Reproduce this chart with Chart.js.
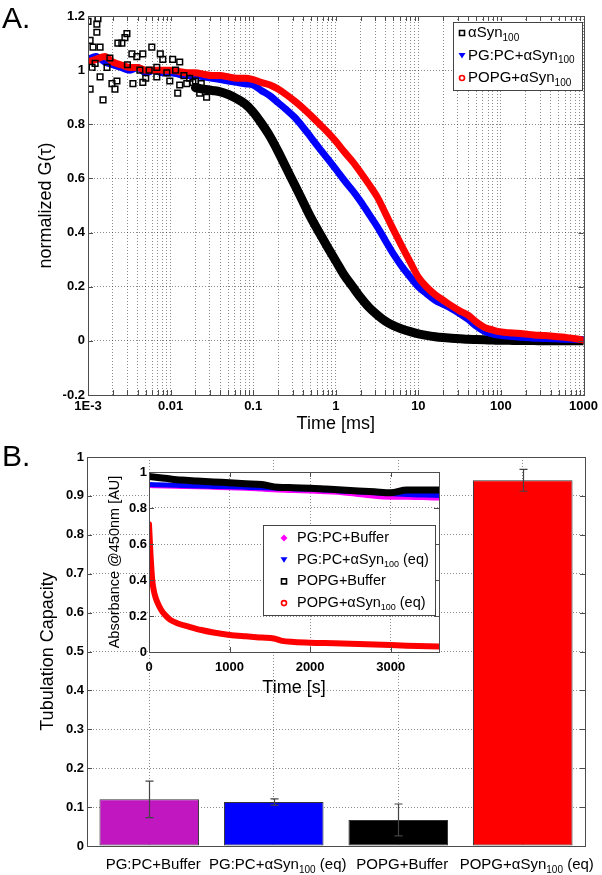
<!DOCTYPE html>
<html>
<head>
<meta charset="utf-8">
<script src="https://cdn.jsdelivr.net/npm/chart.js@4.4.0/dist/chart.umd.min.js"></script>
<style>
body{margin:0;background:#fff;width:602px;height:875px;position:relative;overflow:hidden;font-family:"Liberation Sans",Arial,sans-serif}
canvas{position:absolute}
.tag{position:absolute;left:2px;font-size:30px;line-height:1;color:#000}
</style>
</head>
<body>
<canvas id="fcsChart" style="left:0;top:0" width="602" height="445"></canvas>
<canvas id="tubeChart" style="left:0;top:445px" width="602" height="430"></canvas>
<canvas id="insetChart" style="left:100px;top:460px" width="345" height="245"></canvas>
<div class="tag" style="top:3px">A.</div>
<div class="tag" style="top:441px">B.</div>
<script>
// ---------- panel A : normalized G(tau) vs time [ms] ----------
const decades = [0.001, 0.01, 0.1, 1, 10, 100, 1000];
const decadeLabels = ['1E-3', '0.01', '0.1', '1', '10', '100', '1000'];
const seriesA = ['αSyn_{100}', 'PG:PC+αSyn_{100}', 'POPG+αSyn_{100}'];

const tA = [0.001,0.00125,0.0016,0.002,0.0025,0.0032,0.004,0.005,0.0063,0.008,
  0.01,0.0125,0.016,0.02,0.025,0.032,0.04,0.05,0.063,0.08,
  0.1,0.125,0.16,0.2,0.25,0.32,0.4,0.5,0.63,0.8,
  1,1.25,1.6,2,2.5,3.2,4,5,6.3,8,
  10,12.5,16,20,25,32,40,50,63,80,
  100,125,160,200,250,320,400,500,630,800,1000];
const gBlack = [null,null,null,null,null,null,null,null,null,null,
  null,null,null,0.935,0.93,0.925,0.92,0.91,0.895,0.875,
  0.845,0.805,0.755,0.70,0.64,0.575,0.515,0.455,0.40,0.345,
  0.295,0.245,0.20,0.16,0.125,0.095,0.072,0.056,0.044,0.034,
  0.026,0.02,0.015,0.012,0.01,0.008,0.006,0.005,0.004,0.003,
  0.002,0.002,0.001,0.001,0.001,0,0,0,0,0,0];
const gBlue = [1.04,1.05,1.03,1.02,1.01,1.00,1.01,0.99,1.00,0.99,
  0.99,0.985,0.98,0.98,0.975,0.97,0.965,0.96,0.955,0.95,
  0.945,0.925,0.905,0.88,0.855,0.825,0.79,0.752,0.712,0.672,
  0.634,0.595,0.555,0.515,0.47,0.42,0.37,0.32,0.275,0.235,
  0.20,0.175,0.15,0.135,0.12,0.10,0.08,0.055,0.035,0.025,
  0.02,0.017,0.014,0.012,0.01,0.009,0.008,0.007,0.006,0.005,0.005];
const gRed = [1.03,1.04,1.05,1.03,1.02,1.01,1.01,1.00,1.00,1.00,
  1.00,0.995,0.99,0.99,0.985,0.98,0.98,0.975,0.97,0.97,
  0.965,0.955,0.945,0.93,0.91,0.885,0.86,0.832,0.802,0.77,
  0.737,0.70,0.662,0.622,0.58,0.53,0.47,0.41,0.35,0.29,
  0.235,0.20,0.17,0.15,0.13,0.11,0.095,0.07,0.05,0.04,
  0.033,0.03,0.028,0.025,0.022,0.02,0.018,0.015,0.012,0.008,0.003];
// scattered early points of the free protein curve
const tBlackNoise = [0.001,0.00132,0.00128,0.00106,0.00128,0.0014,0.0014,0.00106,0.00152,0.00212,
  0.00195,0.0023,0.0028,0.00296,0.00257,0.0034,0.0039,0.00461,0.00592,0.00681,
  0.0035,0.00461,0.00805,0.0106,0.0129,0.00978,0.0129,0.0122,0.0157,0.0186,
  0.0225,0.0273,0.00681,0.00425,0.00224,0.0017,0.00184,0.00122,0.00115,0.00112,
  0.003,0.0055,0.009,0.0115,0.0145,0.017,0.02,0.0235,0.0075,0.005];
const gBlackNoise = [1.18,1.19,1.17,1.11,1.14,1.085,0.975,0.93,0.89,0.93,
  0.95,1.10,1.12,1.135,1.10,1.06,1.05,1.06,1.085,1.01,
  0.95,0.955,1.04,1.04,1.03,0.96,0.945,0.915,0.95,0.955,
  0.915,0.90,0.975,1.0,0.96,1.01,1.045,1.025,1.085,1.01,
  1.02,1.0,0.99,1.0,0.98,0.97,0.96,0.95,1.06,0.97];

// ---------- panel B : tubulation capacity ----------
const barLabels = ['PG:PC+Buffer', 'PG:PC+αSyn_{100} (eq)', 'POPG+Buffer', 'POPG+αSyn_{100} (eq)'];
const tubValues = [0.12, 0.113, 0.067, 0.94];
const tubErrors = [0.047, 0.008, 0.041, 0.028];
const barColors = ['#c017c0', '#0000ff', '#000000', '#ff0000'];

// ---------- inset : absorbance @450nm vs time [s] ----------
const seriesInset = ['PG:PC+Buffer', 'PG:PC+αSyn_{100} (eq)', 'POPG+Buffer', 'POPG+αSyn_{100} (eq)'];
const insetTimeTicks = [0, 1000, 2000, 3000];
const tInset = [0,200,400,600,800,1000,1200,1400,1600,1800,2000,2200,2400,2600,2800,3000,3200,3400,3600];
const absPgpcBuffer = [0.925,0.922,0.92,0.918,0.915,0.912,0.91,0.905,0.9,0.897,0.895,0.89,0.885,0.875,0.865,0.86,0.86,0.858,0.855];
const absPgpcSyn = [0.93,0.928,0.925,0.922,0.92,0.918,0.915,0.912,0.91,0.907,0.905,0.9,0.895,0.89,0.885,0.88,0.875,0.872,0.87];
const absPopgBuffer = [0.975,0.965,0.955,0.95,0.945,0.94,0.935,0.93,0.915,0.913,0.91,0.905,0.9,0.895,0.89,0.885,0.9,0.9,0.9];
const tRedInset = [0,10,20,30,40,60,80,100,150,200,260,350,500,650,800,1000,1200,1400,1550,1650,1800,2000,2300,2600,2900,3200,3600];
const absPopgSyn = [0.71,0.62,0.53,0.46,0.40,0.34,0.305,0.28,0.235,0.205,0.18,0.16,0.14,0.122,0.108,0.095,0.087,0.08,0.075,0.062,0.056,0.052,0.049,0.045,0.04,0.035,0.03];

//================ helpers =================
const FONT = '"Liberation Sans", Arial, sans-serif';
const gridColor = 'rgba(0,0,0,0.45)';
const gridDash = [1, 2];
Chart.defaults.font.family = FONT;
Chart.defaults.color = '#000';

const xy = (ts, vs) => ts.map((t, i) => ({x: t, y: vs[i]})).filter(p => p.y !== null);
const shortNum = v => String(Math.round(v * 10) / 10);

// "αSyn_{100}" -> text with subscript
function parts(label) {
  const out = [];
  label.split(/_\{|\}/).forEach((s, i) => { if (s) out.push([s, i % 2 === 1]); });
  return out;
}
function richWidth(ctx, label, size) {
  let w = 0;
  parts(label).forEach(([s, sub]) => {
    ctx.font = (sub ? Math.round(size * 0.65) : size) + 'px ' + FONT;
    w += ctx.measureText(s).width;
  });
  return w;
}
function richText(ctx, label, x, y, size, align) {
  if (align === 'center') x -= richWidth(ctx, label, size) / 2;
  ctx.textBaseline = 'middle';
  ctx.textAlign = 'left';
  parts(label).forEach(([s, sub]) => {
    ctx.font = (sub ? Math.round(size * 0.65) : size) + 'px ' + FONT;
    ctx.fillText(s, x, sub ? y + size * 0.32 : y);
    x += ctx.measureText(s).width;
  });
}
function marker(ctx, style, x, y, color) {
  ctx.save();
  ctx.strokeStyle = color; ctx.fillStyle = color; ctx.lineWidth = 1.6;
  ctx.beginPath();
  if (style === 'rect') { ctx.rect(x - 2.5, y - 2.5, 5, 5); ctx.stroke(); }
  else if (style === 'down') { ctx.moveTo(x - 3.5, y - 2.5); ctx.lineTo(x + 3.5, y - 2.5); ctx.lineTo(x, y + 3); ctx.closePath(); ctx.fill(); }
  else if (style === 'circle') { ctx.arc(x, y, 2.5, 0, 2 * Math.PI); ctx.stroke(); }
  else if (style === 'diamond') { ctx.moveTo(x, y - 3.5); ctx.lineTo(x + 3.5, y); ctx.lineTo(x, y + 3.5); ctx.lineTo(x - 3.5, y); ctx.closePath(); ctx.fill(); }
  ctx.restore();
}
function legendBox(id, box, rows, size) {
  return {
    id,
    afterDraw(chart) {
      const ctx = chart.ctx;
      ctx.save();
      ctx.fillStyle = '#fff'; ctx.strokeStyle = '#444'; ctx.lineWidth = 1;
      ctx.fillRect(box.x, box.y, box.w, box.h);
      ctx.strokeRect(box.x + 0.5, box.y + 0.5, box.w, box.h);
      rows.forEach((r, i) => {
        const y = box.y + box.first + i * box.step;
        marker(ctx, r.style, box.x + box.mx, y, r.color);
        ctx.fillStyle = '#000';
        richText(ctx, r.label, box.x + box.tx, y, size);
      });
      ctx.restore();
    }
  };
}
// white plot area, box and inward tick marks (matlab look)
const framePlugin = {
  id: 'frame',
  defaults: {xTicks: true, yTicks: true},
  beforeDraw(chart) {
    const a = chart.chartArea, ctx = chart.ctx;
    ctx.save(); ctx.fillStyle = '#fff';
    ctx.fillRect(a.left, a.top, a.right - a.left, a.bottom - a.top);
    ctx.restore();
  },
  afterDatasetsDraw(chart, args, opts) {
    const a = chart.chartArea, ctx = chart.ctx, len = 5;
    ctx.save(); ctx.strokeStyle = '#4d4d4d'; ctx.lineWidth = 1;
    ctx.beginPath();
    if (opts.xTicks) chart.scales.x.ticks.forEach((t, i) => {
      const px = Math.round(chart.scales.x.getPixelForTick(i)) + 0.5;
      ctx.moveTo(px, a.bottom); ctx.lineTo(px, a.bottom - len);
      ctx.moveTo(px, a.top); ctx.lineTo(px, a.top + len);
    });
    if (opts.yTicks) chart.scales.y.ticks.forEach((t, i) => {
      const py = Math.round(chart.scales.y.getPixelForTick(i)) + 0.5;
      ctx.moveTo(a.left, py); ctx.lineTo(a.left + len, py);
      ctx.moveTo(a.right, py); ctx.lineTo(a.right - len, py);
    });
    ctx.stroke();
    ctx.strokeRect(Math.round(a.left) + 0.5, Math.round(a.top) + 0.5, Math.round(a.right - a.left), Math.round(a.bottom - a.top));
    ctx.restore();
  }
};
const gridOpts = {color: gridColor, lineWidth: 1, drawTicks: false};
const borderOpts = {display: false, dash: gridDash};
const tickFont = {size: 13, weight: 'bold'};
const band = {showLine: true, borderJoinStyle: 'round', borderCapStyle: 'round', cubicInterpolationMode: 'monotone', pointRadius: 0};

//================ panel A =================
new Chart(document.getElementById('fcsChart'), {
  type: 'scatter',
  data: {
    datasets: [
      Object.assign({label: seriesA[0], data: xy(tA, gBlack), borderColor: '#000', borderWidth: 9, order: 4}, band),
      Object.assign({label: seriesA[1], data: xy(tA, gBlue), borderColor: '#0000ff', borderWidth: 7, order: 3}, band),
      Object.assign({label: seriesA[2], data: xy(tA, gRed), borderColor: '#ff0000', borderWidth: 7, order: 2}, band),
      {label: seriesA[0], data: xy(tBlackNoise, gBlackNoise), showLine: false,
        pointStyle: 'rect', pointRadius: 4, pointBorderColor: '#000', pointBackgroundColor: 'rgba(0,0,0,0)',
        pointBorderWidth: 1.5, order: 1}
    ]
  },
  options: {
    responsive: false, animation: false,
    layout: {padding: {left: 28, right: 17, top: 16, bottom: 0}},
    plugins: {legend: {display: false}, tooltip: {enabled: false}},
    scales: {
      x: {
        type: 'logarithmic', min: 0.001, max: 1000,
        afterBuildTicks: s => {
          const list = [];
          decades.forEach(d => {
            for (let m = 1; m < 10; m++) {
              const v = +(m * d).toPrecision(3);
              if (v <= 1000) list.push({value: v});
            }
          });
          s.ticks = list;
        },
        ticks: {autoSkip: false, maxRotation: 0, padding: 4, font: tickFont,
          callback: v => { const i = decades.indexOf(v); return i >= 0 ? decadeLabels[i] : ''; }},
        grid: gridOpts, border: borderOpts,
        title: {display: true, text: 'Time [ms]', font: {size: 18}, padding: {top: 0, bottom: 10}},
        afterFit: s => { s.height = 50; }
      },
      y: {
        min: -0.2, max: 1.2,
        ticks: {stepSize: 0.2, padding: 3, font: tickFont, callback: shortNum},
        grid: gridOpts, border: borderOpts,
        title: {display: true, text: 'normalized G(τ)', font: {size: 18}, padding: {top: 7, bottom: 0}},
        afterFit: s => { s.width = 60; }
      }
    }
  },
  plugins: [framePlugin, legendBox('legendA', {x: 453, y: 22, w: 129, h: 68, first: 11, step: 22.5, mx: 9, tx: 15}, [
    {label: seriesA[0], style: 'rect', color: '#000'},
    {label: seriesA[1], style: 'down', color: '#0000ff'},
    {label: seriesA[2], style: 'circle', color: '#ff0000'}
  ], 15)]
});

//================ panel B =================
const errorBarPlugin = {
  id: 'errbars',
  afterDatasetsDraw(chart) {
    const ctx = chart.ctx, y = chart.scales.y;
    chart.getDatasetMeta(0).data.forEach((bar, i) => {
      const top = y.getPixelForValue(tubValues[i] + tubErrors[i]);
      const bot = y.getPixelForValue(tubValues[i] - tubErrors[i]);
      const x = Math.round(bar.x) + 0.5;
      ctx.save(); ctx.strokeStyle = '#444'; ctx.lineWidth = 1.2;
      ctx.beginPath();
      ctx.moveTo(x, top); ctx.lineTo(x, bot);
      ctx.moveTo(x - 4, top); ctx.lineTo(x + 4, top);
      ctx.moveTo(x - 4, bot); ctx.lineTo(x + 4, bot);
      ctx.stroke(); ctx.restore();
    });
  }
};
const barLabelPlugin = {
  id: 'barlabels',
  afterDraw(chart) {
    const ctx = chart.ctx, a = chart.chartArea;
    ctx.save(); ctx.fillStyle = '#000';
    chart.getDatasetMeta(0).data.forEach((bar, i) => {
      richText(ctx, barLabels[i], bar.x + 4, a.bottom + 19, 15, 'center');
    });
    ctx.restore();
  }
};
new Chart(document.getElementById('tubeChart'), {
  type: 'bar',
  data: {
    labels: barLabels,
    datasets: [{data: tubValues, backgroundColor: barColors, borderColor: '#333', borderWidth: 1,
      borderSkipped: false, categoryPercentage: 0.8, barPercentage: 1}]
  },
  options: {
    responsive: false, animation: false,
    layout: {padding: {left: 28, right: 17, top: 12, bottom: 0}},
    plugins: {legend: {display: false}, tooltip: {enabled: false}, frame: {xTicks: false}},
    scales: {
      x: {
        grid: Object.assign({offset: false}, gridOpts), border: borderOpts,
        ticks: {display: false},
        afterFit: s => { s.height = 29; }
      },
      y: {
        min: 0, max: 1,
        ticks: {stepSize: 0.1, padding: 3, font: tickFont, callback: shortNum},
        grid: gridOpts, border: borderOpts,
        title: {display: true, text: 'Tubulation Capacity', font: {size: 18}, padding: {top: 9, bottom: 0}},
        afterFit: s => { s.width = 59; }
      }
    }
  },
  plugins: [errorBarPlugin, framePlugin, barLabelPlugin]
});

//================ inset =================
new Chart(document.getElementById('insetChart'), {
  type: 'scatter',
  data: {
    datasets: [
      Object.assign({label: seriesInset[0], data: xy(tInset, absPgpcBuffer), borderColor: '#ff00ff', borderWidth: 5, order: 4}, band),
      Object.assign({label: seriesInset[1], data: xy(tInset, absPgpcSyn), borderColor: '#0000ff', borderWidth: 5, order: 3}, band),
      Object.assign({label: seriesInset[2], data: xy(tInset, absPopgBuffer), borderColor: '#000', borderWidth: 7, order: 2}, band),
      Object.assign({label: seriesInset[3], data: xy(tRedInset, absPopgSyn), borderColor: '#ff0000', borderWidth: 6, order: 1}, band)
    ]
  },
  options: {
    responsive: false, animation: false,
    layout: {padding: {left: 0, right: 6, top: 12, bottom: 0}},
    plugins: {legend: {display: false}, tooltip: {enabled: false}},
    scales: {
      x: {
        type: 'linear', min: 0, max: 3600,
        afterBuildTicks: s => { s.ticks = insetTimeTicks.map(v => ({value: v})); },
        ticks: {autoSkip: false, maxRotation: 0, padding: 8, font: tickFont, callback: v => String(v)},
        grid: gridOpts, border: borderOpts,
        title: {display: true, text: 'Time [s]', font: {size: 18}, padding: {top: 0, bottom: 6}},
        afterFit: s => { s.height = 53; }
      },
      y: {
        min: 0, max: 1,
        ticks: {stepSize: 0.2, padding: 2, font: tickFont, callback: shortNum},
        grid: gridOpts, border: borderOpts,
        title: {display: true, text: 'Absorbance @450nm [AU]', font: {size: 14.5}, padding: {top: 6, bottom: 0}},
        afterFit: s => { s.width = 49; }
      }
    }
  },
  plugins: [framePlugin, legendBox('legendInset', {x: 163, y: 65, w: 172, h: 90, first: 13, step: 21.7, mx: 21, tx: 34}, [
    {label: seriesInset[0], style: 'diamond', color: '#ff00ff'},
    {label: seriesInset[1], style: 'down', color: '#0000ff'},
    {label: seriesInset[2], style: 'rect', color: '#000'},
    {label: seriesInset[3], style: 'circle', color: '#ff0000'}
  ], 14.5)]
});
</script>
</body>
</html>
